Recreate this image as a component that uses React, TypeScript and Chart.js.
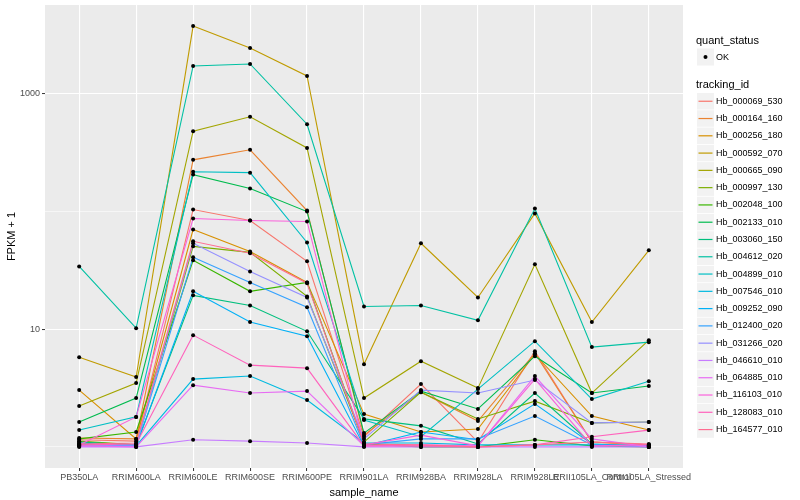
import React, { useEffect, useRef } from "react";
import { Chart, registerables } from "chart.js";

Chart.register(...registerables);

const categories = [
  "PB350LA",
  "RRIM600LA",
  "RRIM600LE",
  "RRIM600SE",
  "RRIM600PE",
  "RRIM901LA",
  "RRIM928BA",
  "RRIM928LA",
  "RRIM928LE",
  "RRII105LA_Control",
  "RRII105LA_Stressed",
];

const trackingIds = [
  "Hb_000069_530",
  "Hb_000164_160",
  "Hb_000256_180",
  "Hb_000592_070",
  "Hb_000665_090",
  "Hb_000997_130",
  "Hb_002048_100",
  "Hb_002133_010",
  "Hb_003060_150",
  "Hb_004612_020",
  "Hb_004899_010",
  "Hb_007546_010",
  "Hb_009252_090",
  "Hb_012400_020",
  "Hb_031266_020",
  "Hb_046610_010",
  "Hb_064885_010",
  "Hb_116103_010",
  "Hb_128083_010",
  "Hb_164577_010",
];

const seriesColors = [
  "#F8766D", "#EA8331", "#D89000", "#C09B00", "#A3A500",
  "#7CAE00", "#39B600", "#00BB4E", "#00BF7D", "#00C1A3",
  "#00BFC4", "#00BAE0", "#00B0F6", "#35A2FF", "#9590FF",
  "#C77CFF", "#E76BF3", "#FA62DB", "#FF62BC", "#FF6C91",
];

const yTickValues = [1, 10, 100, 1000];
const yTickLabels = ["", "10", "", "1000"];

// FPKM + 1 per sample, in category order
const hb_000069_530 = [1.15, 1.12, 104, 83.9, 37.8, 1.22, 3.42, 1.1, 6.51, 1.1, 1.04];
const hb_000164_160 = [1.19, 1.17, 275, 335, 102, 1.26, 2.92, 1.66, 6.26, 1.1, 1.04];
const hb_000256_180 = [3.04, 1.17, 70.4, 45.8, 25.0, 1.9, 1.34, 1.42, 6.13, 1.83, 1.39];
const hb_000592_070 = [5.79, 3.92, 3770, 2455, 1421, 5.05, 53.8, 18.6, 96.4, 11.5, 46.8];
const hb_000665_090 = [2.23, 3.49, 482, 638, 347, 2.6, 5.35, 3.16, 35.6, 2.87, 8.07];
const hb_000997_130 = [1.12, 1.04, 50.6, 45.0, 19.0, 1.1, 2.92, 1.73, 2.45, 1.6, 1.63];
const hb_002048_100 = [1.17, 1.34, 38.5, 21.0, 25.0, 1.06, 1.0, 1.0, 1.15, 1.02, 1.0];
const hb_002133_010 = [1.63, 2.6, 206, 157, 100, 1.31, 2.98, 2.1, 5.9, 2.87, 3.29];
const hb_003060_150 = [1.1, 1.04, 19.4, 15.9, 9.6, 1.73, 1.51, 1.06, 2.87, 1.06, 1.02];
const hb_004612_020 = [34.2, 10.2, 1727, 1796, 552, 15.6, 15.9, 11.9, 106, 7.05, 7.77];
const hb_004899_010 = [1.39, 1.8, 218, 214, 54.6, 1.69, 1.22, 3.1, 7.92, 2.55, 3.62];
const hb_007546_010 = [1.08, 1.02, 3.77, 4.0, 2.5, 1.08, 1.08, 1.04, 1.04, 1.04, 1.02];
const hb_009252_090 = [1.06, 1.02, 21.0, 11.5, 8.73, 1.02, 1.34, 1.15, 2.32, 1.06, 1.0];
const hb_012400_020 = [1.04, 1.04, 40.8, 25.0, 15.4, 1.04, 1.17, 1.17, 1.83, 1.04, 1.02];
const hb_031266_020 = [1.02, 1.02, 53.8, 31.0, 18.6, 1.17, 3.04, 2.87, 3.7, 1.6, 1.63];
const hb_046610_010 = [1.0, 1.0, 1.15, 1.12, 1.08, 1.0, 1.0, 1.0, 1.0, 1.0, 1.0];
const hb_064885_010 = [1.02, 1.0, 3.35, 2.87, 2.98, 1.02, 1.04, 1.02, 4.0, 1.17, 1.0];
const hb_116103_010 = [1.04, 1.8, 87.2, 83.9, 82.4, 1.04, 1.26, 1.02, 3.77, 1.02, 1.04];
const hb_128083_010 = [1.04, 1.06, 8.91, 4.95, 4.67, 1.02, 1.02, 1.0, 1.04, 1.22, 1.39];
const hb_164577_010 = [1.06, 1.08, 55.9, 44.2, 24.6, 1.06, 1.04, 1.0, 1.04, 1.1, 1.06];

const seriesValues = [
  hb_000069_530, hb_000164_160, hb_000256_180, hb_000592_070, hb_000665_090,
  hb_000997_130, hb_002048_100, hb_002133_010, hb_003060_150, hb_004612_020,
  hb_004899_010, hb_007546_010, hb_009252_090, hb_012400_020, hb_031266_020,
  hb_046610_010, hb_064885_010, hb_116103_010, hb_128083_010, hb_164577_010,
];

const FONT = '"Liberation Sans", Arial, Helvetica, sans-serif';

const panelBackground = {
  id: "panelBackground",
  beforeDraw(chart: any) {
    const { ctx, chartArea } = chart;
    if (!chartArea) return;
    ctx.save();
    ctx.fillStyle = "#EBEBEB";
    ctx.fillRect(chartArea.left, chartArea.top, chartArea.right - chartArea.left, chartArea.bottom - chartArea.top);
    ctx.restore();
  },
};

function isMajorY(v: number) {
  return v === 10 || v === 1000;
}

export default function App() {
  const canvasRef = useRef<HTMLCanvasElement | null>(null);

  useEffect(() => {
    if (!canvasRef.current) return;
    const lineSets = seriesValues.map((vals, i) => ({
      type: "line" as const,
      label: trackingIds[i],
      data: vals.map((v, j) => ({ x: j, y: v })),
      borderColor: seriesColors[i],
      backgroundColor: seriesColors[i],
      borderWidth: 1.1,
      pointRadius: 0,
      pointHoverRadius: 0,
      fill: false,
      tension: 0,
      order: 100 - i,
    }));
    const pointSets = seriesValues.map((vals, i) => ({
      type: "line" as const,
      label: trackingIds[i] + " points",
      data: vals.map((v, j) => ({ x: j, y: v })),
      showLine: false,
      pointRadius: 2,
      pointBackgroundColor: "#000000",
      pointBorderWidth: 0,
      borderColor: "#000000",
      order: 0,
    }));

    const chart = new Chart(canvasRef.current, {
      type: "line",
      data: { datasets: [...lineSets, ...pointSets] as any },
      plugins: [panelBackground],
      options: {
        animation: false,
        responsive: false,
        devicePixelRatio: 1,
        layout: { padding: { left: 0, right: 117, top: 5, bottom: 0 } },
        plugins: {
          legend: { display: false },
          tooltip: { enabled: false },
        },
        scales: {
          x: {
            type: "linear",
            min: -0.6,
            max: 10.6,
            afterBuildTicks: (scale: any) => {
              scale.ticks = categories.map((_, i) => ({ value: i }));
            },
            afterFit: (scale: any) => {
              scale.height = 32;
            },
            ticks: {
              autoSkip: false,
              maxRotation: 0,
              minRotation: 0,
              padding: 1,
              color: "#4D4D4D",
              font: { family: FONT, size: 9 },
              callback: (_v: any, index: number) => categories[index],
            },
            grid: {
              color: "#FFFFFF",
              lineWidth: 1.1,
              tickLength: 3,
              tickColor: "#333333",
              tickWidth: 1,
            },
            border: { display: false },
            title: {
              display: true,
              text: "sample_name",
              color: "#000000",
              font: { family: FONT, size: 11 },
              padding: { top: 0, bottom: 0 },
            },
          },
          y: {
            type: "logarithmic",
            min: 0.662,
            max: 5690,
            afterBuildTicks: (scale: any) => {
              scale.ticks = yTickValues.map((v) => ({ value: v }));
            },
            afterFit: (scale: any) => {
              scale.width = 45;
              scale.paddingTop = 0;
              scale.paddingBottom = 0;
            },
            ticks: {
              autoSkip: false,
              padding: 2,
              color: "#4D4D4D",
              font: { family: FONT, size: 9 },
              callback: (v: any) => {
                const idx = yTickValues.indexOf(Number(v));
                return idx >= 0 ? yTickLabels[idx] : "";
              },
            },
            grid: {
              color: "#FFFFFF",
              lineWidth: (ctx: any) => (ctx.tick && isMajorY(ctx.tick.value) ? 1.1 : 0.55),
              tickLength: 3,
              tickColor: (ctx: any) => (ctx.tick && isMajorY(ctx.tick.value) ? "#333333" : "rgba(0,0,0,0)"),
              tickWidth: 1,
            },
            border: { display: false },
            title: {
              display: true,
              text: "FPKM + 1",
              color: "#000000",
              font: { family: FONT, size: 11 },
              padding: { top: 5, bottom: 0 },
            },
          },
        },
      } as any,
    });
    return () => chart.destroy();
  }, []);

  const keyTop0 = 93;
  const keyStep = 17.28;

  return (
    <div
      style={{
        position: "absolute",
        left: 0,
        top: 0,
        width: 800,
        height: 500,
        background: "#FFFFFF",
        fontFamily: FONT,
        overflow: "hidden",
      }}
    >
      <canvas ref={canvasRef} width={800} height={500} style={{ position: "absolute", left: 0, top: 0 }} />
      <svg
        width={20}
        height={400}
        style={{ position: "absolute", left: 696, top: 40 }}
        viewBox="696 40 20 400"
      >
        <rect x={697} y={48.5} width={17} height={17} fill="#F2F2F2" />
        <circle cx={705.5} cy={57} r={2} fill="#000" />
        {trackingIds.map((id, i) => {
          const top = keyTop0 + i * keyStep;
          return (
            <g key={id}>
              <rect x={697} y={top} width={17} height={16.5} fill="#F2F2F2" />
              <line
                x1={698.5}
                x2={712.5}
                y1={top + 8.25}
                y2={top + 8.25}
                stroke={seriesColors[i]}
                strokeWidth={1.2}
              />
            </g>
          );
        })}
      </svg>
      <div style={{ position: "absolute", left: 696, top: 34, fontSize: 11, lineHeight: "13px", color: "#000" }}>
        quant_status
      </div>
      <div style={{ position: "absolute", left: 716, top: 51.5, fontSize: 9, lineHeight: "11px", color: "#000" }}>
        OK
      </div>
      <div style={{ position: "absolute", left: 696, top: 77.5, fontSize: 11, lineHeight: "13px", color: "#000" }}>
        tracking_id
      </div>
      {trackingIds.map((id, i) => (
        <div
          key={id}
          style={{
            position: "absolute",
            left: 716,
            top: keyTop0 + i * keyStep + 2.7,
            fontSize: 9,
            lineHeight: "11px",
            color: "#000",
            whiteSpace: "nowrap",
          }}
        >
          {id}
        </div>
      ))}
    </div>
  );
}
